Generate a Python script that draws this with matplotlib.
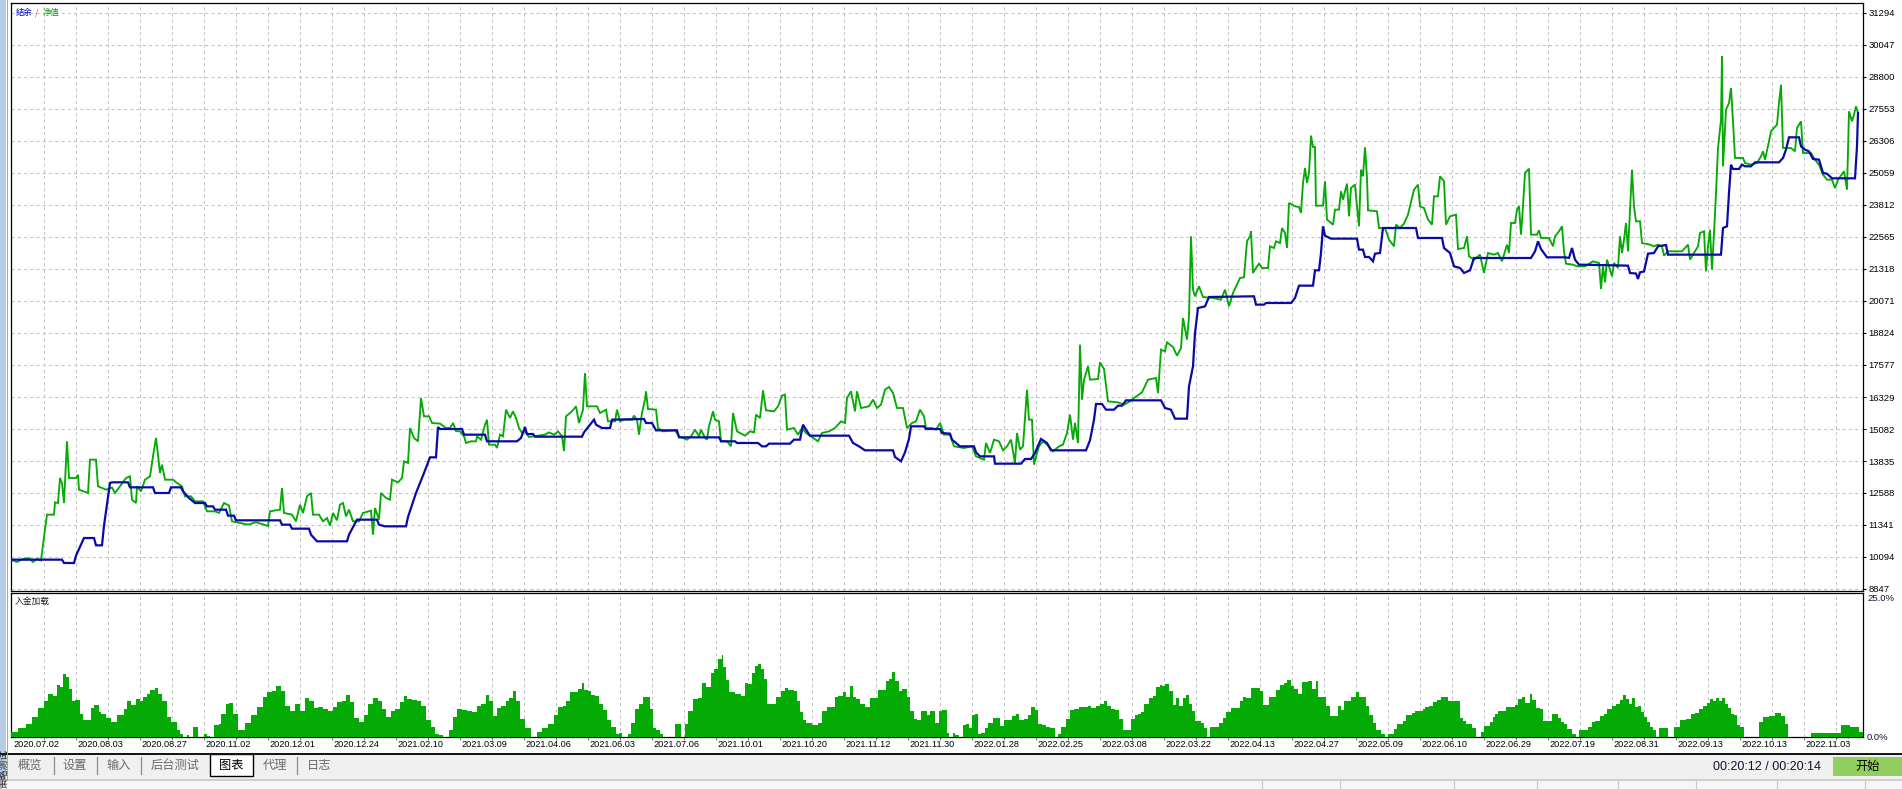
import matplotlib
matplotlib.use("Agg")
import matplotlib.pyplot as plt
import matplotlib.transforms as mtransforms
from matplotlib.patches import Rectangle
import numpy as np

W, H = 1902, 789

# ---------------- data (deal number, value) ----------------
balance_deal = [0,51,53,63,65,73,83,85,91,93,99,101,117,119,142,144,158,160,170,172,178,184,194,196,202,204,215,217,223,225,269,271,279,281,298,300,306,336,338,346,366,368,374,395,397,405,413,419,425,427,429,451,453,474,476,506,510,514,516,522,524,571,573,583,585,591,599,601,633,
    635,641,645,666,668,708,710,724,726,747,751,755,758,779,783,789,792,795,799,838,842,848,854,882,884,890,894,898,900,913,915,929,931,939,941,945,949,963,965,969,983,984,1010,1014,1020,1024,1030,1036,1040,1075,1079,1083,1085,1091,1095,1103,1107,1111,1115,1150,1154,1160,1164,1176,1178,1182,1184,1187,1194,1198,1243,
    1245,1253,1255,1280,1284,1288,1302,1304,1308,1310,1312,1314,1320,1346,1348,1352,1354,1358,1362,1364,1369,1372,1405,1407,1431,1433,1439,1443,1449,1453,1459,1463,1520,1524,1527,1530,1536,1554,1558,1561,1564,1568,1617,1619,1625,1627,1629,1633,1637,1643,1647,1655,1657,1710,1712,1716,1718,1720,1722,1728,1731,1734,1740,1744,1768,1772,1775,1778,1788,1790,1794,1798,1802,1808,1812,1816,1821,1844,1846,1847]
balance_value = [9990,9990,9860,9860,10146,10834,10834,10549,10549,11315,12978,13004,13004,12809,12809,12588,12588,12809,12809,12653,12393,12198,12198,12068,12068,11938,11938,11705,11705,11523,11523,11354,11354,11198,11198,10964,10705,10705,10964,11549,11549,11354,11289,11289,11653,12588,13367,13978,13978,15160,15082,15082,14861,14861,14602,14602,14732,15160,14887,14887,14783,14783,14952,15446,15251,15121,15121,15446,15472,
    15316,15316,15030,15030,14757,14757,14602,14602,14537,14537,14407,14407,14511,14511,14667,14667,15251,15056,14822,14822,14537,14407,14251,14251,13991,13822,14173,14700,15186,15186,15082,15082,14926,14900,14667,14537,14407,14407,14173,14017,14017,13731,13731,13913,13913,14147,14693,14537,14251,14251,14641,15446,16056,16056,15835,15835,15991,15991,16199,16199,15900,15835,15485,15485,16745,17524,18823,19797,19860,20226,20253,
    19928,19928,19993,19993,20188,20668,20668,21266,21266,21941,22980,22617,22500,22500,22071,22071,21785,21785,21617,21915,21941,22915,22915,22526,22526,22136,21941,21422,21357,21162,21266,21746,21746,22006,22396,22097,21772,21772,21750,22136,21681,21487,21448,21162,21140,20928,21188,21220,21915,21941,22201,22253,21876,21876,22915,22980,24279,25384,25215,25215,25384,25319,25319,25474,25474,25643,25968,26449,26449,26098,25968,25900,25604,25578,25059,25030,24851,24851,26098,27397]

equity_deal = [0,6,12,18,22,26,30,32,36,43,44,47,49,51,53,56,58,65,67,68,77,79,85,87,95,101,104,109,115,119,121,125,126,130,134,139,142,145,147,149,151,154,162,166,171,174,180,184,192,196,204,208,213,218,221,229,237,245,253,257,259,269,271,273,281,285,289,292,296,300,302,308,312,316,319,322,326,329,332,335,338,342,348,352,358,360,362,364,368,370,375,379,381,387,391,393,397,399,403,407,410,413,418,421,429,435,439,442,445,449,453,455,460,465,466,470,474,476,478,484,486,489,492,495,499,502,505,508,511,514,518,534,538,543,547,551,553,555,561,565,568,572,574,576,586,589,595,597,604,606,609,
    613,621,623,626,628,631,634,635,637,645,647,652,664,668,676,680,684,688,690,694,696,698,702,704,708,710,716,720,722,726,734,739,743,745,749,752,755,763,767,771,774,776,783,787,791,795,799,807,811,818,824,830,834,836,840,844,846,850,858,862,866,870,874,878,882,886,892,896,901,905,909,913,915,921,925,929,933,939,943,953,961,965,973,975,979,983,988,992,996,1000,1004,1006,1009,1012,1016,1018,1021,1023,1026,1028,1032,1038,1042,1048,1052,1056,1059,1062,1064,1067,1069,1071,1073,1077,1079,1087,1089,1093,1097,1107,1113,1119,1123,1131,1137,1145,1147,1150,1154,1156,1162,1166,1170,1172,1176,1178,1180,1182,1184,1188,1192,1202,1210,1214,1218,1222,1229,
    1233,1236,1239,1240,1242,1245,1248,1251,1257,1259,1263,1265,1269,1271,1274,1276,1278,1284,1288,1290,1292,1294,1296,1298,1300,1302,1304,1305,1312,1314,1316,1322,1324,1328,1330,1332,1334,1336,1338,1340,1344,1346,1348,1350,1352,1354,1356,1357,1366,1368,1374,1378,1383,1385,1389,1393,1397,1403,1407,1409,1413,1417,1421,1423,1427,1429,1433,1435,1439,1445,1447,1453,1456,1458,1463,1469,1473,1477,1483,1487,1491,1496,1498,1500,1504,1506,1508,1510,1512,1514,1518,1520,1526,1528,1530,1538,1542,1544,1548,1551,1553,1555,1562,1566,1574,1582,1588,1590,1592,1594,1596,1601,1603,1607,1609,1611,1613,1615,1617,1621,1623,1625,1629,1631,1639,1643,1647,1651,1653,1657,1671,1677,1679,1683,1687,1689,1693,1695,1697,1699,1701,1703,1705,1707,1710,1711,1712,1715,1718,1720,1722,1724,1732,1734,1740,1746,1750,1752,1754,1758,1760,1766,1768,1770,1772,1780,1784,1786,1790,1792,1800,1804,1808,1812,1816,1821,1824,1827,1833,1836,1838,1841,1843,1845,1847]
equity_value = [9990,9900,10020,10050,9900,10020,9960,10575,11744,11744,12224,12198,13172,12978,12198,14602,13172,13172,13300,12718,12588,13887,13887,12848,12718,12800,12588,12848,13172,13237,12328,12198,12848,12653,13107,13237,14017,14732,14082,13367,13692,13107,13107,12978,12848,12458,12458,12263,12263,11874,11874,11809,12198,12100,11484,11420,11354,11450,11354,11300,11874,11939,12783,11809,11744,11484,12133,11809,12458,12588,11744,11744,11484,11614,11315,11809,11523,12133,12198,11679,11939,11484,11484,11809,11874,11900,10964,12003,11549,12588,12393,12328,13107,13002,13172,13822,13757,15121,14732,14602,16290,15576,15576,15316,15290,15121,15121,15316,15000,14990,14800,14537,14602,14602,14797,14667,15250,15446,14472,14472,14342,14862,14797,15835,15511,15770,15511,15121,14927,14992,14770,14862,14950,14862,14990,14797,14225,15575,15770,15965,15316,15835,17260,15965,15965,15705,15835,15381,15381,15835,15381,
    15446,15446,15602,15446,14861,15706,16225,16550,15862,15835,15121,14991,15030,14796,14666,14796,15056,14796,15056,14731,14666,15186,15770,15446,15381,14602,14602,14407,15706,14991,14822,14991,14950,15641,15511,16589,15809,15770,15965,16381,16420,15056,15121,14861,15121,14926,14822,14602,14926,14991,15121,15381,15316,16290,16550,15770,16550,15900,15965,16225,15900,16030,16615,16719,16485,15900,15900,15121,15316,15381,15835,15576,15121,15121,15056,15316,14861,14861,14407,14342,14407,14017,13887,14537,14147,14667,14602,14251,14407,14667,13757,14926,14277,14407,16615,15446,15446,13692,14147,14407,14602,14407,14212,14407,14472,14926,15641,14667,15316,14537,18368,16225,17004,17524,17004,17030,17680,17420,16160,16121,16030,16160,16290,16511,17004,17070,16485,18173,18108,18459,18277,17940,18238,19407,18563,19472,22590,20512,20252,20642,20226,20187,20122,20512,19862,20382,20967,
    20993,22396,22591,22786,21162,21357,21526,21357,21357,22201,22136,22396,22331,22915,22721,22136,23890,23760,23734,23500,24669,25254,24669,25059,26514,26072,26072,23786,23786,24734,23240,23045,23630,23630,24344,24020,24344,24643,23370,24474,24604,23760,22980,25189,24929,26059,24864,23604,23565,22915,22915,22461,22201,23045,22915,23085,23435,24410,24604,23760,23695,23240,23045,24150,24150,24929,24734,23045,23370,23435,22097,22136,22591,21811,21681,21876,21162,21941,21876,21941,21617,22266,21941,23110,23110,23630,23760,22656,23760,25059,25228,22656,22656,22825,22526,22526,22201,22591,22786,22980,22006,21526,21487,21422,21422,21617,21552,20538,21422,20798,21681,21032,21552,21357,22591,21941,22461,23110,22006,25189,23760,23175,23175,22331,22266,22201,22266,22201,21837,22006,22006,22266,21681,21941,22201,22721,22786,21227,22201,22851,21292,22721,24279,26033,27137,29600,25319,27527,27787,28371,27072,25643,25643,25449,25384,25449,25708,25903,25578,26293,26683,26942,27787,28501,26033,26033,25903,26812,27072,25838,25838,25578,25384,24994,24799,24799,24474,24799,25124,24409,27462,27072,27332,27657,27397]

load_deal = [0,7,15,21,27,33,37,42,46,49,52,55,58,61,64,69,72,80,83,88,90,95,100,106,113,116,120,125,129,132,136,139,144,147,151,156,160,166,169,172,176,178,182,187,193,196,199,203,208,210,215,218,222,227,234,240,246,252,256,261,265,270,274,279,284,289,294,298,303,307,312,317,322,326,331,335,339,343,348,353,357,362,367,371,375,380,384,389,393,396,401,406,410,415,420,424,428,432,438,442,446,451,456,461,466,470,475,478,482,486,490,495,498,502,505,509,514,520,526,531,537,543,547,552,555,559,567,571,573,577,580,584,588,592,596,600,605,608,611,617,620,624,628,632,635,639,642,645,649,652,664,670,674,677,682,687,691,695,700,703,707,711,712,715,718,721,724,730,734,737,741,744,747,750,753,756,765,770,774,777,783,786,789,792,795,801,807,811,816,824,827,832,835,839,842,845,849,854,859,867,875,878,881,884,888,891,896,899,903,906,910,916,919,924,928,
    931,936,938,942,944,948,952,955,958,961,964,967,970,974,977,982,989,993,998,1001,1005,1008,1013,1017,1020,1024,1027,1031,1035,1039,1044,1047,1050,1055,1059,1063,1068,1077,1080,1085,1089,1093,1096,1100,1104,1108,1112,1120,1124,1127,1130,1133,1138,1142,1145,1149,1151,1154,1158,1162,1165,1168,1172,1175,1178,1181,1184,1190,1193,1196,1199,1208,1212,1215,1220,1229,1232,1235,1240,1249,1252,1258,1265,1269,1273,1276,1280,1283,1287,1291,1297,1301,1305,1307,1315,1319,1327,1330,1333,1340,1345,1348,1355,1358,1362,1365,1370,1374,1377,1383,1386,1392,1395,1401,1404,1412,1414,1418,1422,1426,1430,1437,1449,1452,1455,1461,1465,1470,1473,1479,1482,1484,1487,1495,1504,1507,1511,1514,1519,1521,1525,1529,1532,1541,1547,1550,1553,1556,1561,1565,1568,1577,1581,1584,1589,1593,1596,1601,1605,1609,1612,1615,1618,1621,1624,1627,1630,1633,1636,1639,1642,1645,1648,1657,1663,1669,1675,1680,1684,1688,1692,1696,1699,1702,1705,1708,1711,1714,1717,1720,1723,1726,1729,1733,1748,1752,1758,1764,1770,1774,1777,1800,1830,1839,1848]
load_pct = [0.86,1.61,2.19,3.45,5.0,6.33,7.48,7.19,9.09,8.63,10.93,10.35,8.34,6.33,6.44,3.91,2.88,5.06,5.58,4.31,4.03,3.34,2.59,3.74,4.89,6.33,5.64,6.61,6.33,7.02,7.48,8.17,8.51,7.48,6.33,3.45,2.59,1.27,0.58,0,0.29,0,1.73,0,0.46,0.23,0,2.01,2.3,3.91,5.75,5.92,4.03,1.15,2.42,3.74,5.29,6.9,7.76,8.05,8.91,8.05,5.46,4.49,5.75,4.49,6.79,6.33,5.06,5.18,4.89,4.6,5.29,6.04,6.33,7.36,6.04,3.34,2.59,3.74,5.75,6.79,6.33,4.89,3.45,4.6,4.89,6.04,7.19,6.61,6.44,6.21,5.46,2.88,1.73,0.46,0.29,0,1.15,3.45,4.89,4.72,4.49,4.31,5.46,5.75,7.36,6.33,3.57,5.06,5.46,6.33,6.79,8.05,6.33,3.16,1.61,0,0.86,1.61,2.19,3.74,5.18,5.46,6.33,7.76,8.34,9.32,8.17,7.94,7.36,7.19,5.75,4.72,2.99,1.73,0.46,0.69,0,0.58,2.42,4.89,5.75,6.9,7.02,4.89,1.61,1.15,0.46,0,2.19,0,2.3,4.49,6.61,6.79,9.32,8.63,11.04,11.79,13.51,14.26,12.08,9.89,7.88,7.76,7.48,7.19,9.32,9.2,11.04,12.36,12.65,11.79,10.06,5.75,7.02,8.05,8.51,8.22,7.94,6.33,4.31,2.88,2.42,2.01,2.42,4.6,5.29,6.9,7.19,7.76,7.02,8.91,6.9,6.61,5.75,5.18,6.79,8.17,9.66,10.06,11.21,9.78,8.05,8.34,6.9,4.6,3.16,2.99,4.49,3.74,4.49,2.42,4.6,
    4.72,0.69,0,0.69,0.29,0,2.01,2.19,1.61,3.74,3.91,0.58,0.69,1.61,2.42,3.34,1.84,2.88,2.99,3.57,3.91,2.88,3.16,3.74,5.18,4.72,2.3,2.01,1.73,1.61,0,0.46,1.73,3.16,4.72,4.83,5.18,5.46,5.06,5.46,5.75,6.21,5.46,4.89,4.72,3.16,1.27,3.16,3.74,4.03,4.31,5.75,6.79,7.19,8.74,9.09,8.91,9.2,8.05,5.64,6.79,5.46,6.79,7.36,5.75,4.49,2.7,2.42,1.61,0,1.73,2.42,3.34,4.31,5.06,6.33,7.02,6.79,8.51,8.05,5.64,6.9,8.17,9.09,9.32,9.89,8.91,8.34,7.48,9.49,9.66,8.34,9.66,7.02,5.46,3.57,5.46,4.72,6.33,6.9,7.76,7.02,5.46,3.74,2.42,1.27,0.46,0,0.58,1.44,2.3,2.76,3.74,4.14,4.49,4.89,5.18,5.46,6.04,6.44,6.9,6.33,3.34,2.76,2.19,1.61,0,0.86,1.84,2.59,3.45,4.03,4.49,5.18,5.64,6.61,6.9,5.87,7.48,6.44,5.06,4.89,2.76,3.91,3.34,2.59,2.3,1.44,0.46,0,1.15,1.73,2.59,2.76,3.57,3.91,4.89,5.46,5.75,6.44,7.36,6.61,5.75,6.79,5.18,5.46,4.31,3.45,2.59,1.73,1.27,0,1.61,0,1.73,2.88,3.16,4.03,4.14,4.89,5.46,5.87,6.61,6.33,6.79,6.33,6.79,5.75,5.06,4.03,3.74,2.01,1.73,0,2.59,3.45,3.57,4.14,3.57,2.3,0,0.69,2.01,1.73,0.86]

y_tick_values = [8847, 10094, 11341, 12588, 13835, 15082, 16329, 17577, 18824, 20071,
                 21318, 22565, 23812, 25059, 26306, 27553, 28800, 30047, 31294]
date_labels = ["2020.07.02","2020.08.03","2020.08.27","2020.11.02","2020.12.01","2020.12.24","2021.02.10","2021.03.09",
               "2021.04.06","2021.06.03","2021.07.06","2021.10.01","2021.10.20","2021.11.12","2021.11.30","2022.01.28",
               "2022.02.25","2022.03.08","2022.03.22","2022.04.13","2022.04.27","2022.05.09","2022.06.10","2022.06.29",
               "2022.07.19","2022.08.31","2022.09.13","2022.10.13","2022.11.03"]
tab_names = ["概览", "设置", "输入", "后台测试", "图表", "代理", "日志"]

N_DEALS = 1852
BLUE = "#0a0aa8"
GREEN = "#06aa06"
GRID = "#c4c4c4"
NUMFONT = ["Liberation Sans", "DejaVu Sans"]
CJK = ["Noto Sans CJK SC", "DejaVu Sans"]

fig = plt.figure(figsize=(W / 100, H / 100), dpi=100)
fig.patch.set_facecolor("white")


def rect(l, t, r, b):
    return [l / W, 1 - b / H, (r - l) / W, (b - t) / H]


# ---------------- UI background ----------------
ui = fig.add_axes([0, 0, 1, 1], zorder=-5)
ui.set_xlim(0, W)
ui.set_ylim(H, 0)
ui.axis("off")
ui.add_patch(Rectangle((0, 753), W, 27, color="#f0f0f0", lw=0))
ui.add_patch(Rectangle((0, 780), W, 9, color="#f6f6f6", lw=0))
ui.plot([0, W], [753.5, 753.5], color="#101010", lw=1.4)
ui.plot([0, W], [779.5, 779.5], color="#c8c8c8", lw=1.2)
for sx in [1262, 1340, 1454, 1537, 1618, 1696, 1777, 1865]:
    ui.plot([sx, sx], [781, 789], color="#c8c8c8", lw=0.8)
strip = Rectangle((0, 0), 6, 780, color="#b6cce6", lw=0)
ui.add_patch(strip)
ui.plot([6.5, 6.5], [0, 780], color="#9aa8b8", lw=0.7)
t = ui.text(3.5, 768, "策略测试", rotation=90, ha="center", va="center",
            fontsize=7, family=CJK, color="#202020")
t.set_clip_path(strip)
# tabs
tab_x = [30, 75, 119, 175, 231, 275, 319]
for name, tx in zip(tab_names, tab_x):
    if name == "图表":
        continue
    ui.text(tx, 765, name, ha="center", va="center", fontsize=8.8, family=CJK, color="#6a6a6a")
for sx in [54, 97, 141, 297]:
    ui.plot([sx, sx], [757, 774], color="#8a8a8a", lw=0.9)
ui.add_patch(Rectangle((210, 754), 43, 22, facecolor="white", edgecolor="#000000", lw=1.0, zorder=1))
ui.text(231, 765, "图表", ha="center", va="center", fontsize=8.8, family=CJK, color="black", zorder=2)
ui.text(1713, 767, "00:20:12 / 00:20:14", ha="left", va="center", fontsize=9,
        family=NUMFONT, color="#101035")
ui.add_patch(Rectangle((1833, 757), 69, 19, color="#93cf5f", lw=0))
ui.text(1868, 766.5, "开始", ha="center", va="center", fontsize=8.8, family=CJK, color="black")

grid_d = np.arange(33, N_DEALS, 32)

# ---------------- main equity/balance panel ----------------
ax = fig.add_axes(rect(11, 3, 1863, 591))
ax.set_facecolor("white")
ax.set_xlim(0, N_DEALS)
ax.set_ylim(8769, 31683)
ax.plot(equity_deal, equity_value, color=GREEN, lw=1.35, zorder=3, solid_joinstyle="miter")
ax.plot(balance_deal, balance_value, color=BLUE, lw=1.6, zorder=4, solid_joinstyle="miter")
ax.set_xticks(grid_d)
ax.tick_params(axis="x", length=0, labelbottom=False)
ax.yaxis.tick_right()
ax.set_yticks(y_tick_values)
ax.set_yticklabels([str(v) for v in y_tick_values], fontsize=6.8, family=NUMFONT)
ax.tick_params(axis="y", length=2.5, width=0.8, pad=1.2, colors="black")
ax.grid(True, color=GRID, linestyle=(0, (3, 3)), lw=0.75, zorder=0)
ax.set_axisbelow(True)
for s in ax.spines.values():
    s.set_color("black")
    s.set_linewidth(0.9)
fig.text(16 / W, 1 - 13 / H, "结余", fontsize=6, family=CJK, color="#0000c0", va="center", ha="left")
fig.text(35 / W, 1 - 13 / H, "/", fontsize=6, family=CJK, color="#c05000", va="center", ha="left")
fig.text(43 / W, 1 - 13 / H, "净值", fontsize=6, family=CJK, color="#08a008", va="center", ha="left")

# ---------------- margin load panel ----------------
ax2 = fig.add_axes(rect(11, 593, 1863, 737))
ax2.set_facecolor("white")
ax2.set_xlim(0, N_DEALS)
ax2.set_ylim(0, 25)
starts = np.array(load_deal, dtype=float)
ends = np.append(starts[1:], N_DEALS)
widths = np.maximum(ends - starts - 0.35, 0.5)
ax2.bar(starts, load_pct, width=widths, align="edge", color="#04ab04", lw=0, zorder=3)
ax2.set_xticks(grid_d)
ax2.tick_params(axis="x", length=2, width=0.6, labelbottom=False, colors="#606060")
ax2.set_yticks([])
ax2.grid(True, axis="x", color=GRID, linestyle=(0, (3, 3)), lw=0.75, zorder=0)
ax2.set_axisbelow(True)
for s in ax2.spines.values():
    s.set_color("black")
    s.set_linewidth(0.9)
ax2.text(1.0022, 0.96, "25.0%", transform=ax2.transAxes, fontsize=6.8, family=NUMFONT,
         va="center", ha="left", color="#101030")
ax2.text(1.0022, 0.0, "0.0%", transform=ax2.transAxes, fontsize=6.8, family=NUMFONT,
         va="center", ha="left", color="#101030")
blend = mtransforms.blended_transform_factory(ax2.transData, ax2.transAxes)
ax2.text(4, 0.945, "入金加载", transform=blend,
         fontsize=6.3, family=CJK, va="center", ha="left", color="#202020")
for k, lab in enumerate(date_labels):
    ax2.text(2 + 64 * k, -0.052, lab, transform=blend, ha="left", va="center",
             fontsize=6.6, family=NUMFONT, color="#000000", clip_on=False)

fig.savefig("out.png", dpi=100, facecolor=fig.get_facecolor())
